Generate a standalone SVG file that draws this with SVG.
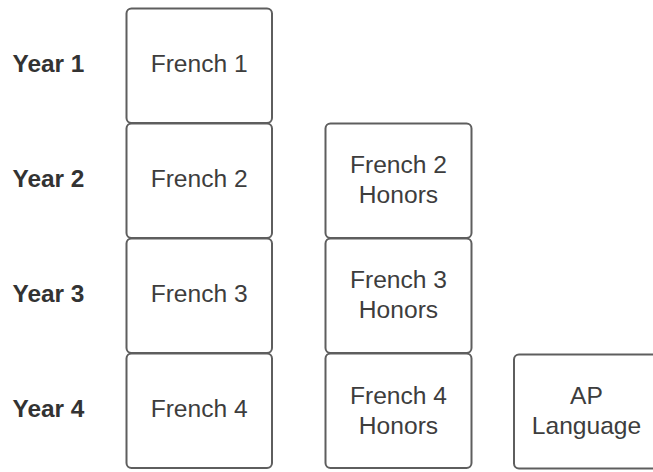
<svg xmlns="http://www.w3.org/2000/svg" width="653" height="472" viewBox="0 0 653 472">
<style>
.box{fill:#ffffff;stroke:#5e5e5e;stroke-width:2}
.t{font-family:"Liberation Sans",Arial,sans-serif;font-size:24.6px;fill:#3d3d3d;text-anchor:middle}
.y{font-family:"Liberation Sans",Arial,sans-serif;font-size:24.4px;font-weight:bold;fill:#333333}
</style>
<rect width="653" height="472" fill="#ffffff"/>
<g id="connectors"></g>
<g id="year1"><text class="y" x="12.5" y="71.7">Year 1</text></g>
<g id="year2"><text class="y" x="12.5" y="186.7">Year 2</text></g>
<g id="year3"><text class="y" x="12.5" y="301.7">Year 3</text></g>
<g id="year4"><text class="y" x="12.5" y="416.7">Year 4</text></g>
<g id="french1"><rect class="box" x="126.5" y="8.5" width="145.5" height="114.5" rx="5"/><text class="t" x="199.2" y="71.7">French 1</text></g>
<g id="french2"><rect class="box" x="126.5" y="123.5" width="145.5" height="114.5" rx="5"/><text class="t" x="199.2" y="186.7">French 2</text></g>
<g id="french3"><rect class="box" x="126.5" y="238.5" width="145.5" height="114.5" rx="5"/><text class="t" x="199.2" y="301.7">French 3</text></g>
<g id="french4"><rect class="box" x="126.5" y="353.5" width="145.5" height="114.5" rx="5"/><text class="t" x="199.2" y="416.7">French 4</text></g>
<g id="french2h"><rect class="box" x="325.5" y="123.5" width="146" height="114.5" rx="5"/><text class="t" x="398.5" y="173.3">French 2</text><text class="t" x="398.5" y="202.8">Honors</text></g>
<g id="french3h"><rect class="box" x="325.5" y="238.5" width="146" height="114.5" rx="5"/><text class="t" x="398.5" y="288.3">French 3</text><text class="t" x="398.5" y="317.8">Honors</text></g>
<g id="french4h"><rect class="box" x="325.5" y="353.5" width="146" height="114.5" rx="5"/><text class="t" x="398.5" y="403.8">French 4</text><text class="t" x="398.5" y="433.8">Honors</text></g>
<g id="aplang"><rect class="box" x="514" y="354.5" width="145" height="114" rx="5"/><text class="t" x="586.5" y="403.8">AP</text><text class="t" x="586.5" y="433.8">Language</text></g>
</svg>
